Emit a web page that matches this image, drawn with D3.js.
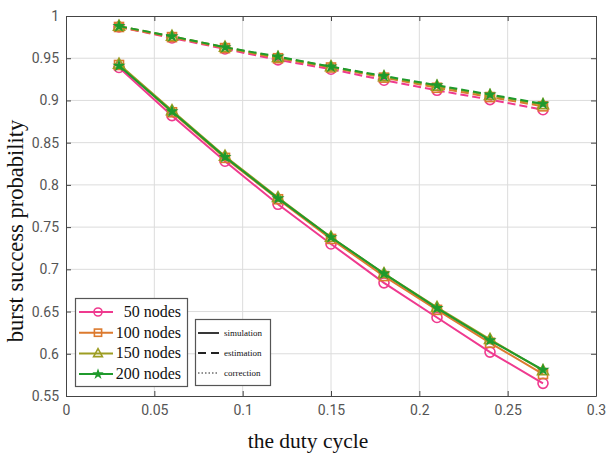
<!DOCTYPE html>
<html>
<head>
  <meta charset="utf-8">
  <script src="https://d3js.org/d3.v7.min.js"></script>
  <style>
    body { margin: 0; background: #fff; }
    svg { font-family: Roboto, "DejaVu Sans", sans-serif; }
    .grid line { stroke: #dcdcdc; stroke-width: 1; }
    .title { font-family: "Liberation Serif", serif; font-size: 21.5px; fill: #111; }
  </style>
</head>
<body>
  <svg width="606" height="456"></svg>

  <script>
    // Data
    const dutyCycle = [0.03, 0.06, 0.09, 0.12, 0.15, 0.18, 0.21, 0.24, 0.27];
    const nodeLabels = ["50 nodes", "100 nodes", "150 nodes", "200 nodes"];
    const colors = ["#ef3a8f", "#dc7a2e", "#9d9d22", "#1f9a2c"];
    const markers = ["circle", "square", "triangle", "star"];

    // simulation (solid)
    const sim50  = [0.939, 0.882, 0.828, 0.777, 0.730, 0.684, 0.643, 0.602, 0.565];
    const sim100 = [0.942, 0.886, 0.832, 0.783, 0.736, 0.692, 0.652, 0.613, 0.576];
    const sim150 = [0.943, 0.888, 0.834, 0.785, 0.738, 0.695, 0.655, 0.617, 0.580];
    const sim200 = [0.941, 0.887, 0.833, 0.784, 0.738, 0.695, 0.654, 0.616, 0.581];

    // estimation (dashed)
    const est50  = [0.987, 0.974, 0.961, 0.948, 0.937, 0.924, 0.912, 0.901, 0.889];
    const est100 = [0.987, 0.975, 0.962, 0.950, 0.939, 0.927, 0.915, 0.904, 0.893];
    const est150 = [0.988, 0.976, 0.963, 0.951, 0.940, 0.928, 0.917, 0.906, 0.895];
    const est200 = [0.988, 0.976, 0.963, 0.952, 0.940, 0.929, 0.918, 0.907, 0.896];

    const xTicks = [0, 0.05, 0.1, 0.15, 0.2, 0.25, 0.3];
    const yTicks = [0.55, 0.6, 0.65, 0.7, 0.75, 0.8, 0.85, 0.9, 0.95, 1];

    const simSeries = [sim50, sim100, sim150, sim200];
    const estSeries = [est50, est100, est150, est200];

    const svg = d3.select("svg");
    const mLeft = 66, mRight = 596, mTop = 16, mBottom = 396;

    const x = d3.scaleLinear().domain([0, 0.3]).range([mLeft, mRight]);
    const y = d3.scaleLinear().domain([0.55, 1]).range([mBottom, mTop]);

    // grid
    svg.append("g").attr("class", "grid")
      .selectAll("line").data(xTicks.slice(1, -1)).enter().append("line")
      .attr("x1", d => x(d)).attr("x2", d => x(d)).attr("y1", mTop).attr("y2", mBottom);
    svg.append("g").attr("class", "grid")
      .selectAll("line").data(yTicks.slice(1, -1)).enter().append("line")
      .attr("y1", d => y(d)).attr("y2", d => y(d)).attr("x1", mLeft).attr("x2", mRight);

    // axes (inward ticks)
    const fmt = d => String(+d.toFixed(2));
    function styleAxis(g) {
      g.select(".domain").attr("stroke", "#444");
      g.selectAll(".tick line").attr("stroke", "#444");
      g.selectAll(".tick text").attr("fill", "#555").style("font-size", "14px")
        .style("font-family", "Roboto, sans-serif");
    }
    svg.append("g").attr("transform", `translate(0,${mBottom})`)
      .call(d3.axisBottom(x).tickValues(xTicks).tickFormat(fmt).tickSizeInner(-5).tickSizeOuter(0).tickPadding(9))
      .call(styleAxis);
    svg.append("g").attr("transform", `translate(${mLeft},0)`)
      .call(d3.axisLeft(y).tickValues(yTicks).tickFormat(fmt).tickSizeInner(-5).tickSizeOuter(0).tickPadding(7))
      .call(styleAxis);
    svg.append("g").attr("transform", `translate(0,${mTop})`)
      .call(d3.axisTop(x).tickValues(xTicks).tickFormat("").tickSizeInner(-5).tickSizeOuter(0))
      .call(styleAxis);
    svg.append("g").attr("transform", `translate(${mRight},0)`)
      .call(d3.axisRight(y).tickValues(yTicks).tickFormat("").tickSizeInner(-5).tickSizeOuter(0))
      .call(styleAxis);

    // marker drawing
    function drawMarker(g, type, color, cx, cy, sc = 1) {
      if (type === "circle") {
        g.append("circle").attr("cx", cx).attr("cy", cy).attr("r", 5 * sc)
          .attr("fill", "none").attr("stroke", color).attr("stroke-width", 1.6);
      } else if (type === "square") {
        g.append("rect").attr("x", cx - 4.5 * sc).attr("y", cy - 4.5 * sc).attr("width", 9 * sc).attr("height", 9 * sc)
          .attr("fill", "none").attr("stroke", color).attr("stroke-width", 1.6);
      } else if (type === "triangle") {
        g.append("path").attr("d", `M${cx},${cy - 6 * sc}L${cx + 5.5 * sc},${cy + 4 * sc}L${cx - 5.5 * sc},${cy + 4 * sc}Z`)
          .attr("fill", "none").attr("stroke", color).attr("stroke-width", 1.6);
      } else {
        g.append("path").attr("d", d3.symbol(d3.symbolStar, 22 * sc * sc)()).attr("transform", `translate(${cx},${cy})`)
          .attr("fill", color).attr("stroke", color).attr("stroke-width", 1.5);
      }
    }

    const line = d3.line().x((d, i) => x(dutyCycle[i])).y(d => y(d));

    [estSeries, simSeries].forEach((set, k) => {
      set.forEach((vals, s) => {
        svg.append("path").datum(vals).attr("d", line)
          .attr("fill", "none").attr("stroke", colors[s]).attr("stroke-width", 2)
          .attr("stroke-dasharray", k === 0 ? "8,4" : null);
        const g = svg.append("g");
        vals.forEach((v, i) => drawMarker(g, markers[s], colors[s], x(dutyCycle[i]), y(v)));
      });
    });

    // legend 1
    const lg = svg.append("g");
    lg.append("rect").attr("x", 75.5).attr("y", 298.5).attr("width", 112).attr("height", 88)
      .attr("fill", "#fff").attr("stroke", "#555").attr("stroke-width", 1.2);
    nodeLabels.forEach((lab, i) => {
      const yy = 312 + i * 20.7;
      lg.append("line").attr("x1", 79).attr("x2", 113).attr("y1", yy).attr("y2", yy)
        .attr("stroke", colors[i]).attr("stroke-width", 2);
      drawMarker(lg, markers[i], colors[i], 98, yy, 0.8);
      lg.append("text").attr("x", 181).attr("y", yy + 5).attr("text-anchor", "end")
        .attr("font-family", "Liberation Serif, serif").attr("font-size", 16).attr("fill", "#111").text(lab);
    });

    // legend 2
    const lg2 = svg.append("g");
    lg2.append("rect").attr("x", 195.5).attr("y", 319.5).attr("width", 75).attr("height", 66)
      .attr("fill", "#fff").attr("stroke", "#555").attr("stroke-width", 1.2);
    const styleLabels = ["simulation", "estimation", "correction"];
    const dashes = [null, "8,5", "1.5,2"];
    styleLabels.forEach((lab, i) => {
      const yy = 333 + i * 20;
      lg2.append("line").attr("x1", 198).attr("x2", 219).attr("y1", yy).attr("y2", yy)
        .attr("stroke", "#222").attr("stroke-width", i === 2 ? 1 : 1.8).attr("stroke-dasharray", dashes[i]);
      lg2.append("text").attr("x", 224).attr("y", yy + 3).attr("font-family", "Liberation Serif, serif")
        .attr("font-size", 9).attr("fill", "#111").text(lab);
    });

    // titles
    svg.append("text").attr("class", "title").attr("x", 308).attr("y", 448).attr("text-anchor", "middle")
      .text("the duty cycle");
    svg.append("text").attr("class", "title").attr("transform", "translate(23,231) rotate(-90)")
      .attr("text-anchor", "middle").style("font-size", "22.5px").text("burst success probability");
  </script>
</body>
</html>
